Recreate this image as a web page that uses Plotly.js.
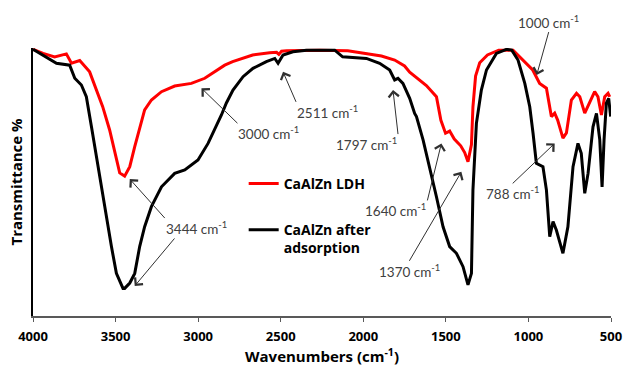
<!DOCTYPE html>
<html>
<head>
<meta charset="utf-8">
<script src="https://cdn.plot.ly/plotly-3.0.1.min.js"></script>
<style>html,body{margin:0;padding:0;background:#fff;}#chart{width:623px;height:366px;}</style>
</head>
<body>
<div id="chart"></div>
<script>
// ---- data ----
const seriesNames = ["CaAlZn LDH", "CaAlZn after<br>adsorption"];

const wnLDH = [4000, 3939, 3869, 3798, 3767, 3717, 3657, 3616, 3578, 3536, 3505, 3475, 3445, 3414, 3384, 3354, 3324, 3283, 3222, 3142, 3041, 2960, 2899, 2839, 2791, 2670, 2567, 2525, 2511, 2495, 2464, 2264, 2094, 1991, 1890, 1810, 1750, 1719, 1660, 1618, 1557, 1530, 1502, 1477, 1449, 1410, 1386, 1366, 1345, 1336, 1320, 1295, 1248, 1180, 1093, 1035, 974, 932, 891, 861, 841, 823, 791, 770, 740, 709, 689, 659, 629, 599, 579, 558, 538, 518, 508];
const tLDH  = [99.5, 98.0, 96.7, 97.8, 94.3, 95.3, 91.1, 84.3, 78.1, 69.4, 60.8, 53.4, 52.2, 55.7, 63.2, 70.6, 76.9, 80.6, 83.7, 85.8, 86.8, 88.7, 91.1, 93.6, 94.9, 97.4, 98.2, 98.4, 97.6, 98.8, 99.0, 99.2, 99.0, 98.1, 97.0, 95.5, 93.3, 91.0, 88.0, 86.0, 81.8, 73.0, 68.2, 69.0, 66.0, 63.5, 61.0, 57.6, 64.0, 78.0, 89.5, 94.5, 97.4, 99.2, 99.2, 95.5, 91.8, 86.8, 85.0, 74.4, 75.7, 73.1, 66.4, 68.3, 80.6, 83.1, 81.8, 75.7, 79.5, 83.7, 81.8, 75.0, 81.8, 83.1, 81.8];

const wnAds = [4000, 3919, 3858, 3778, 3747, 3707, 3677, 3646, 3616, 3586, 3556, 3525, 3495, 3455, 3445, 3414, 3384, 3354, 3324, 3283, 3222, 3142, 3081, 3001, 2940, 2900, 2859, 2829, 2789, 2728, 2668, 2587, 2536, 2516, 2486, 2426, 2344, 2264, 2173, 2125, 1981, 1901, 1840, 1810, 1790, 1760, 1719, 1689, 1678, 1638, 1598, 1557, 1517, 1477, 1436, 1396, 1366, 1345, 1336, 1315, 1285, 1254, 1194, 1133, 1101, 1063, 1022, 992, 972, 952, 912, 891, 871, 851, 831, 791, 761, 730, 700, 680, 659, 639, 609, 588, 568, 554, 542, 528, 514, 502];
const tAds  = [99.5, 96.7, 94.3, 93.6, 88.7, 86.2, 81.8, 70.6, 59.4, 48.2, 37.0, 25.9, 15.9, 10.3, 10.3, 12.3, 15.9, 25.9, 33.3, 40.8, 48.2, 53.2, 54.5, 58.2, 64.4, 69.4, 75.0, 79.5, 84.3, 89.3, 92.4, 94.9, 96.1, 94.3, 97.4, 98.6, 99.2, 99.2, 99.2, 96.7, 96.1, 94.3, 91.8, 88.1, 88.7, 86.8, 81.2, 75.6, 74.4, 65.7, 55.7, 44.5, 33.3, 25.9, 23.4, 18.4, 11.6, 15.9, 47.0, 71.9, 84.3, 91.8, 98.0, 99.5, 99.2, 95.5, 86.8, 78.1, 68.2, 57.0, 55.7, 47.0, 29.6, 35.2, 32.1, 23.4, 33.3, 55.7, 64.4, 60.7, 45.8, 53.2, 70.6, 75.6, 65.7, 48.2, 65.7, 79.4, 81.2, 74.4];

const tickValues = [4000, 3500, 3000, 2500, 2000, 1500, 1000, 500];
const tickLabels = ["4000", "3500", "3000", "2500", "2000", "1500", "1000", "500"];

// peak labels with their arrows: arrow head (wavenumber, transmittance),
// label offset from the head in px, and which corner of the label the arrow leaves from
const peakTexts = ["3000 cm<sup>-1</sup>", "2511 cm<sup>-1</sup>", "1797 cm<sup>-1</sup>", "1640 cm<sup>-1</sup>", "1370 cm<sup>-1</sup>", "788 cm<sup>-1</sup>", "1000 cm<sup>-1</sup>", "3444 cm<sup>-1</sup>"];
const headWn = [2980, 2486, 1820, 1527, 1406, 841, 950, 3414];
const headT  = [85.0, 91.1, 84.3, 64.4, 53.8, 64.4, 89.9, 51.1];
const tailAx = [36, 13, 5, -14, -52, -42, 12, 35];
const tailAy = [35, 30, 44, 57, 89, 40, -43, 39];
const labelXAnchor = ['left', 'left', 'right', 'right', 'center', 'center', 'center', 'left'];
const labelYAnchor = ['top', 'top', 'top', 'top', 'top', 'top', 'bottom', 'top'];
// second arrow of the 3444 cm-1 label
const extraHeadWn = [3384];
const extraHeadT  = [11.2];
const extraAx = [41];
const extraAy = [-49];

const traces = [
  {x: wnLDH, y: tLDH, type: 'scatter', mode: 'lines', name: seriesNames[0],
   line: {color: '#ff0000', width: 3}, legend: 'legend'},
  {x: wnAds, y: tAds, type: 'scatter', mode: 'lines', name: seriesNames[1],
   line: {color: '#000000', width: 3}, legend: 'legend2'}
];

const annFont = {family: 'Lato, "Open Sans", sans-serif', size: 13.5, color: '#404040'};
const arrowStyle = {arrowhead: 4, arrowsize: 2, arrowwidth: 1, arrowcolor: '#303030', standoff: 0, startstandoff: 0};
const annotations = [];
for (let i = 0; i < peakTexts.length; i++) {
  annotations.push(Object.assign({xref: 'x', yref: 'y', x: headWn[i], y: headT[i],
    text: peakTexts[i], showarrow: true, ax: tailAx[i], ay: tailAy[i],
    xanchor: labelXAnchor[i], yanchor: labelYAnchor[i], font: annFont, borderpad: 0}, arrowStyle));
}
for (let i = 0; i < extraHeadWn.length; i++) {
  annotations.push(Object.assign({xref: 'x', yref: 'y', x: extraHeadWn[i], y: extraHeadT[i],
    text: '', showarrow: true, ax: extraAx[i], ay: extraAy[i]}, arrowStyle));
}

const boldFont = {family: '"Open Sans", sans-serif', size: 14, color: '#000', weight: 'bold'};
const titleFont = {family: '"Open Sans", sans-serif', size: 15, color: '#000', weight: 'bold'};

const layout = {
  width: 623, height: 366,
  margin: {l: 33, r: 12, t: 48, b: 50},
  paper_bgcolor: '#fff', plot_bgcolor: '#fff',
  showlegend: true,
  xaxis: {
    range: [4000, 500], tickvals: tickValues, ticktext: tickLabels,
    ticks: 'outside', ticklen: 4, tickcolor: '#595959', tickwidth: 1,
    ticklabelstandoff: 4,
    showline: true, linecolor: '#595959', linewidth: 1.5,
    showgrid: false, zeroline: false,
    tickfont: {family: '"Open Sans", sans-serif', size: 13, color: '#000', weight: 'bold'},
    title: {text: 'Wavenumbers (cm<sup>-1</sup>)', font: titleFont, standoff: 10},
    automargin: false
  },
  yaxis: {
    range: [0, 100], showticklabels: false, ticks: '',
    showline: true, linecolor: '#000', linewidth: 2,
    showgrid: false, zeroline: false,
    title: {text: 'Transmittance %', font: titleFont, standoff: 5},
    automargin: false
  },
  legend: {x: 0.3645, y: 0.4925, xanchor: 'left', yanchor: 'middle',
    bgcolor: 'rgba(0,0,0,0)', font: boldFont, itemwidth: 30, valign: 'top'},
  legend2: {x: 0.3645, y: 0.287, xanchor: 'left', yanchor: 'middle',
    bgcolor: 'rgba(0,0,0,0)', font: boldFont, itemwidth: 30, valign: 'top'},
  annotations: annotations
};

Plotly.newPlot('chart', traces, layout, {displayModeBar: false, staticPlot: true});
</script>
</body>
</html>
